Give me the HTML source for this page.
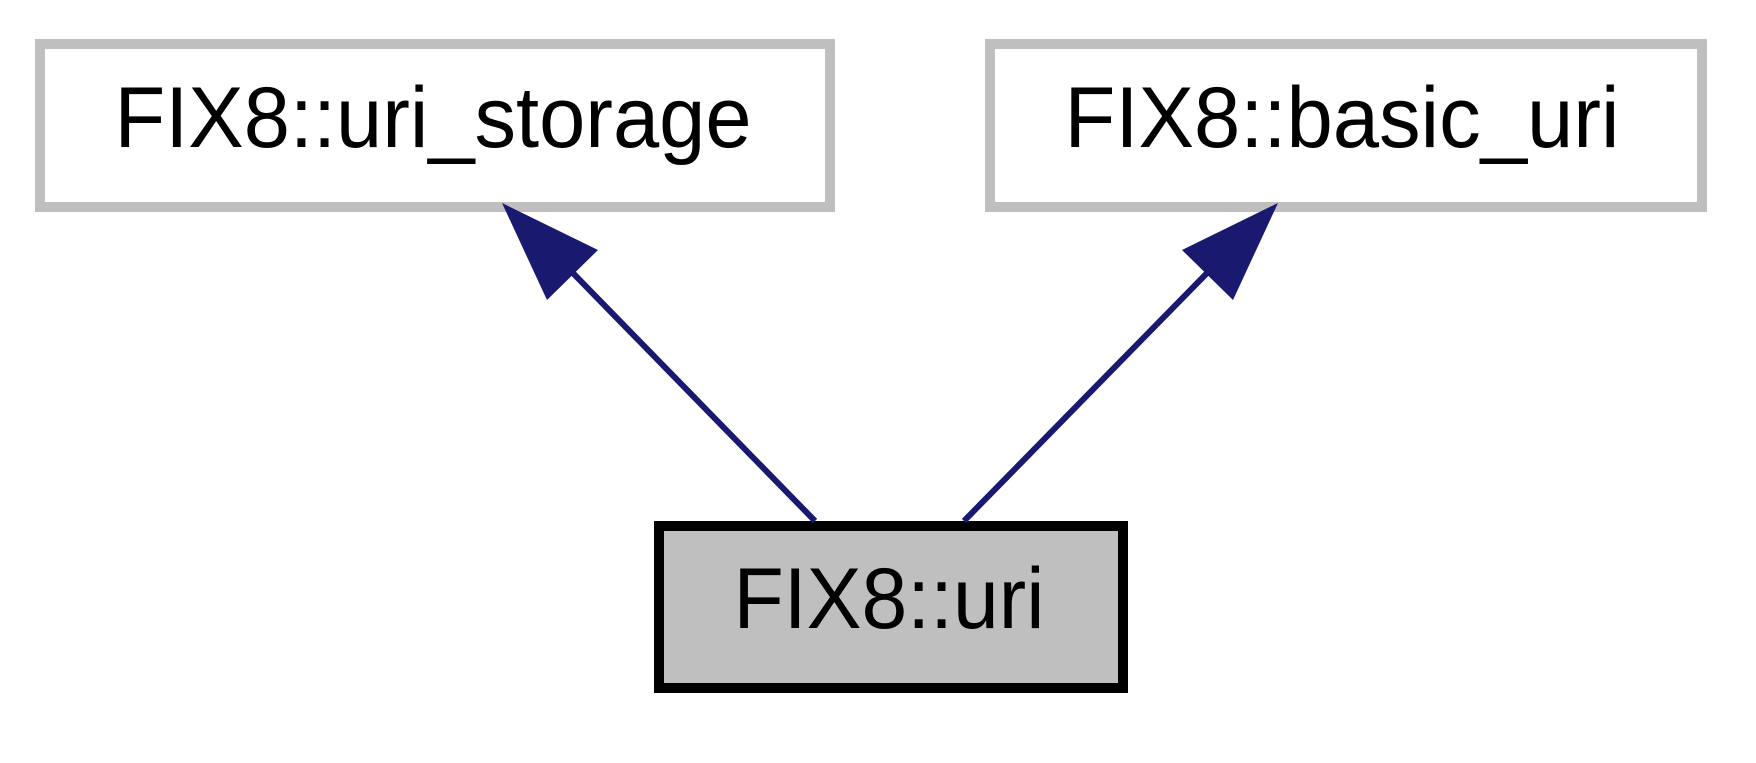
<!DOCTYPE html>
<html><head><meta charset="utf-8"><style>html,body{margin:0;padding:0;background:#fff;}svg{display:block}</style></head>
<body>
<svg width="1756" height="763" viewBox="0 0 1756 763" xmlns="http://www.w3.org/2000/svg">
<rect x="0" y="0" width="1756" height="763" fill="#fff"/>
<rect x="40" y="44" width="790" height="163" fill="#fff" stroke="#bfbfbf" stroke-width="10"/>
<text x="433" y="147" font-family="Liberation Sans, sans-serif" font-size="86" text-anchor="middle" textLength="637" lengthAdjust="spacingAndGlyphs">FIX8::uri_storage</text>
<rect x="990" y="44" width="712" height="163" fill="#fff" stroke="#bfbfbf" stroke-width="10"/>
<text x="1342" y="147" font-family="Liberation Sans, sans-serif" font-size="86" text-anchor="middle" textLength="555" lengthAdjust="spacingAndGlyphs">FIX8::basic_uri</text>
<rect x="659" y="526" width="464" height="162" fill="#bfbfbf" stroke="#000" stroke-width="10"/>
<text x="889" y="628" font-family="Liberation Sans, sans-serif" font-size="86" text-anchor="middle" textLength="311" lengthAdjust="spacingAndGlyphs">FIX8::uri</text>
<line x1="815" y1="521" x2="568" y2="268" stroke="#191970" stroke-width="6"/>
<polygon points="502,203 598,250 547,300" fill="#191970"/>
<line x1="964" y1="521" x2="1212" y2="268" stroke="#191970" stroke-width="6"/>
<polygon points="1278,203 1182,250 1233,300" fill="#191970"/>
</svg>
</body></html>
